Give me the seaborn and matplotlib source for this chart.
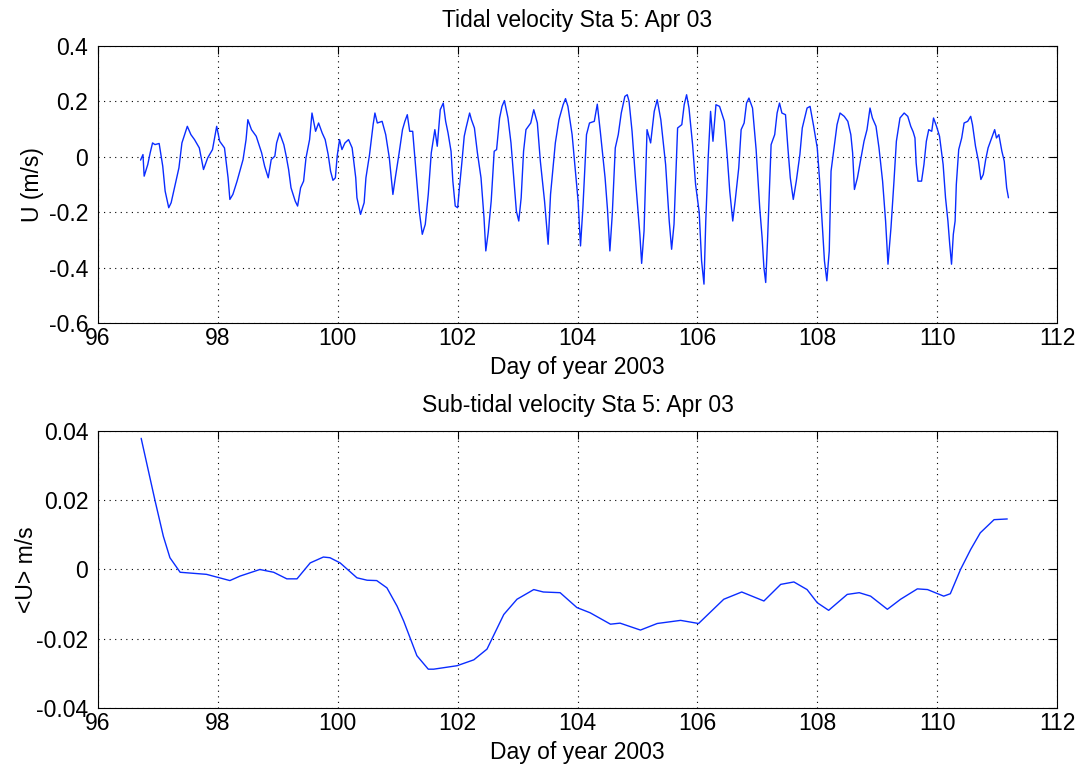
import matplotlib
matplotlib.use("Agg")
import matplotlib.pyplot as plt
import seaborn as sns
import pandas as pd

# ---- Tidal velocity (top panel) ----
tidal_day = [
    96.71, 96.75, 96.77, 96.83, 96.87, 96.91, 96.95, 97.02, 97.08, 97.12, 97.18, 97.22, 97.27, 97.35,
    97.40, 97.49, 97.55, 97.61, 97.69, 97.76, 97.83, 97.91, 97.98, 98.03, 98.11, 98.17, 98.20, 98.25,
    98.32, 98.42, 98.47, 98.50, 98.56, 98.64, 98.73, 98.78, 98.84, 98.89, 98.95, 98.98, 99.03, 99.10,
    99.14, 99.18, 99.22, 99.29, 99.33, 99.38, 99.43, 99.47, 99.53, 99.57, 99.63, 99.68, 99.74, 99.79,
    99.84, 99.88, 99.92, 99.96, 99.99, 100.03, 100.07, 100.12, 100.18, 100.24, 100.30, 100.32, 100.38,
    100.44, 100.47, 100.53, 100.59, 100.62, 100.66, 100.74, 100.80, 100.86, 100.92, 100.96, 101.02,
    101.08, 101.12, 101.16, 101.20, 101.25, 101.31, 101.36, 101.41, 101.46, 101.51, 101.56, 101.62,
    101.66, 101.71, 101.76, 101.80, 101.84, 101.89, 101.92, 101.96, 102.00, 102.03, 102.07, 102.11,
    102.14, 102.20, 102.23, 102.28, 102.33, 102.39, 102.44, 102.47, 102.51, 102.56, 102.61, 102.65,
    102.70, 102.74, 102.78, 102.84, 102.89, 102.94, 102.98, 103.02, 103.06, 103.10, 103.14, 103.22,
    103.27, 103.33, 103.38, 103.45, 103.51, 103.55, 103.63, 103.69, 103.76, 103.80, 103.84, 103.91,
    103.96, 104.01, 104.05, 104.09, 104.15, 104.20, 104.28, 104.33, 104.38, 104.46, 104.50, 104.54,
    104.58, 104.63, 104.68, 104.73, 104.79, 104.83, 104.86, 104.91, 104.97, 105.01, 105.04, 105.07,
    105.11, 105.16, 105.22, 105.28, 105.33, 105.39, 105.47, 105.53, 105.57, 105.61, 105.67, 105.74,
    105.78, 105.82, 105.86, 105.92, 105.97, 106.03, 106.07, 106.11, 106.14, 106.18, 106.22, 106.26,
    106.31, 106.37, 106.45, 106.50, 106.54, 106.59, 106.63, 106.69, 106.73, 106.78, 106.82, 106.86,
    106.92, 106.98, 107.04, 107.08, 107.11, 107.14, 107.17, 107.23, 107.29, 107.33, 107.37, 107.41,
    107.47, 107.51, 107.55, 107.60, 107.65, 107.71, 107.75, 107.79, 107.83, 107.88, 107.94, 108.00,
    108.04, 108.08, 108.12, 108.16, 108.20, 108.23, 108.28, 108.33, 108.38, 108.45, 108.51, 108.56,
    108.59, 108.62, 108.67, 108.73, 108.78, 108.83, 108.88, 108.92, 108.98, 109.03, 109.09, 109.14,
    109.18, 109.23, 109.28, 109.32, 109.38, 109.45, 109.51, 109.56, 109.60, 109.63, 109.65, 109.68,
    109.74, 109.78, 109.82, 109.86, 109.91, 109.94, 109.99, 110.04, 110.10, 110.14, 110.18, 110.21,
    110.24, 110.27, 110.30, 110.32, 110.36, 110.41, 110.45, 110.51, 110.56, 110.59, 110.64, 110.69,
    110.73, 110.77, 110.81, 110.85, 110.90, 110.94, 110.96, 110.99, 111.03, 111.08, 111.12, 111.16,
    111.19,
]
tidal_u = [
    -0.012, 0.008, -0.070, -0.028, 0.014, 0.050, 0.044, 0.048, -0.034, -0.124, -0.184, -0.166, -0.118, -0.040,
    0.050, 0.110, 0.080, 0.062, 0.032, -0.046, -0.004, 0.026, 0.110, 0.056, 0.032, -0.076, -0.154, -0.136,
    -0.088, -0.010, 0.062, 0.134, 0.098, 0.074, 0.014, -0.034, -0.076, -0.010, 0.002, 0.050, 0.086, 0.044,
    0.002, -0.046, -0.112, -0.160, -0.178, -0.112, -0.088, -0.004, 0.062, 0.158, 0.092, 0.122, 0.086, 0.062,
    0.008, -0.052, -0.085, -0.076, 0.002, 0.062, 0.026, 0.050, 0.062, 0.032, -0.076, -0.148, -0.208,
    -0.166, -0.076, 0.008, 0.116, 0.158, 0.122, 0.128, 0.080, -0.004, -0.136, -0.076, 0.008,
    0.098, 0.128, 0.152, 0.092, 0.092, -0.064, -0.196, -0.280, -0.244, -0.136, 0.014, 0.098,
    0.038, 0.170, 0.194, 0.128, 0.086, 0.020, -0.088, -0.178, -0.184, -0.112, -0.022, 0.074,
    0.104, 0.158, 0.134, 0.104, 0.014, -0.076, -0.220, -0.340, -0.274, -0.160, 0.020, 0.026,
    0.140, 0.182, 0.203, 0.140, 0.050, -0.088, -0.196, -0.232, -0.148, 0.020, 0.098, 0.122,
    0.170, 0.122, -0.016, -0.160, -0.316, -0.136, 0.050, 0.134, 0.188, 0.210, 0.182, 0.080,
    -0.040, -0.160, -0.322, -0.184, 0.080, 0.122, 0.128, 0.190, 0.092, -0.076, -0.190, -0.340,
    -0.208, 0.032, 0.080, 0.158, 0.218, 0.224, 0.200, 0.092, -0.088, -0.196, -0.280, -0.385,
    -0.268, 0.098, 0.050, 0.164, 0.206, 0.134, -0.028, -0.232, -0.334, -0.244, 0.104, 0.116,
    0.188, 0.224, 0.176, 0.044, -0.100, -0.200, -0.376, -0.460, -0.232, -0.004, 0.164, 0.056,
    0.188, 0.182, 0.128, -0.004, -0.124, -0.232, -0.160, -0.040, 0.098, 0.122, 0.194, 0.212,
    0.176, 0.026, -0.184, -0.292, -0.400, -0.454, -0.304, 0.044, 0.080, 0.158, 0.194, 0.158,
    0.152, 0.032, -0.076, -0.154, -0.088, 0.008, 0.104, 0.140, 0.176, 0.182, 0.110, 0.032,
    -0.088, -0.232, -0.376, -0.448, -0.340, -0.052, 0.032, 0.116, 0.158, 0.146, 0.128, 0.080,
    0.014, -0.118, -0.076, -0.004, 0.056, 0.098, 0.176, 0.140, 0.110, 0.032, -0.088, -0.232,
    -0.388, -0.256, -0.088, 0.056, 0.140, 0.158, 0.146, 0.110, 0.090, 0.068, -0.022, -0.088,
    -0.088, -0.028, 0.056, 0.098, 0.092, 0.140, 0.110, 0.074, -0.028, -0.148, -0.232, -0.316,
    -0.388, -0.280, -0.232, -0.100, 0.026, 0.068, 0.122, 0.128, 0.146, 0.116, 0.038, -0.016,
    -0.082, -0.064, -0.010, 0.032, 0.062, 0.086, 0.098, 0.068, 0.080, 0.020, -0.016, -0.112,
    -0.148,
]

# ---- Sub-tidal velocity (bottom panel) ----
sub_day = [
    96.72, 96.95, 97.09, 97.20, 97.37, 97.81, 98.20, 98.37, 98.70, 98.93, 99.15, 99.32, 99.54, 99.76,
    99.87, 100.04, 100.32, 100.49, 100.65, 100.82, 100.99, 101.10, 101.32, 101.51, 101.60, 101.99,
    102.27, 102.49, 102.77, 102.99, 103.27, 103.43, 103.71, 103.99, 104.21, 104.55, 104.71, 105.05,
    105.33, 105.72, 106.02, 106.44, 106.74, 107.11, 107.39, 107.61, 107.83, 108.00, 108.19, 108.50,
    108.70, 108.89, 109.17, 109.39, 109.67, 109.84, 110.11, 110.22, 110.39, 110.56, 110.72, 110.95,
    111.17,
]
sub_u = [
    0.0379, 0.0200, 0.0096, 0.0034, -0.0008, -0.0014, -0.0032, -0.0019, 0.0000, -0.0008, -0.0027, -0.0027, 0.0019, 0.0036,
    0.0034, 0.0019, -0.0024, -0.0031, -0.0032, -0.0053, -0.0106, -0.0149, -0.0249, -0.0288, -0.0288, -0.0278,
    -0.0261, -0.0230, -0.0130, -0.0086, -0.0058, -0.0065, -0.0067, -0.0110, -0.0125, -0.0158, -0.0155, -0.0175,
    -0.0156, -0.0147, -0.0156, -0.0086, -0.0065, -0.0091, -0.0043, -0.0036, -0.0058, -0.0096, -0.0118, -0.0072,
    -0.0067, -0.0077, -0.0115, -0.0086, -0.0056, -0.0058, -0.0077, -0.0070, 0.0000, 0.0058, 0.0106, 0.0144,
    0.0146,
]

x_ticks = [96, 98, 100, 102, 104, 106, 108, 110, 112]
top_yticks = [-0.6, -0.4, -0.2, 0, 0.2, 0.4]
top_yticklabels = ["-0.6", "-0.4", "-0.2", "0", "0.2", "0.4"]
bot_yticks = [-0.04, -0.02, 0, 0.02, 0.04]
bot_yticklabels = ["-0.04", "-0.02", "0", "0.02", "0.04"]

sns.set_theme(style="white")
plt.rcParams["font.family"] = ["Liberation Sans", "DejaVu Sans"]
plt.rcParams["axes.unicode_minus"] = False
plt.rcParams["text.color"] = "black"
plt.rcParams["axes.labelcolor"] = "black"

FS = 16.5
fig = plt.figure(figsize=(10.83, 7.67), dpi=100)
ax1 = fig.add_axes([0.0905, 0.579, 0.8855, 0.361])
ax2 = fig.add_axes([0.0905, 0.077, 0.8855, 0.361])

df_t = pd.DataFrame({"day": tidal_day, "u": tidal_u})
df_s = pd.DataFrame({"day": sub_day, "u": sub_u})

sns.lineplot(data=df_t, x="day", y="u", ax=ax1, color="#0a2cff", lw=1.0,
             estimator=None, sort=False)
sns.lineplot(data=df_s, x="day", y="u", ax=ax2, color="#0a2cff", lw=1.0,
             estimator=None, sort=False)

def style(ax, yticks, ylabels, ylim, title, ylabel, ylab_x):
    ax.set_xlim(96, 112)
    ax.set_ylim(*ylim)
    ax.set_xticks(x_ticks)
    ax.set_xticklabels([str(t) for t in x_ticks])
    ax.set_yticks(yticks)
    ax.set_yticklabels(ylabels)
    ax.grid(True, linestyle=(0, (1, 4)), color="black", lw=0.8)
    ax.tick_params(direction="in", length=6, width=0.8, top=True, right=True,
                   labelsize=FS, colors="black")
    ax.tick_params(axis="y", pad=7)
    ax.tick_params(axis="x", pad=3)
    for s in ax.spines.values():
        s.set_color("black")
        s.set_linewidth(0.8)
    ax.set_title(title, fontsize=FS, pad=14, color="black")
    ax.set_xlabel("Day of year 2003", fontsize=FS, labelpad=4)
    ax.set_ylabel(ylabel, fontsize=FS)
    ax.yaxis.set_label_coords(ylab_x, 0.5)

style(ax1, top_yticks, top_yticklabels, (-0.6, 0.4), "Tidal velocity Sta 5: Apr 03", "U (m/s)", -0.056)
style(ax2, bot_yticks, bot_yticklabels, (-0.04, 0.04), "Sub-tidal velocity Sta 5: Apr 03", "<U> m/s", -0.063)

fig.savefig("out.png", dpi=100, facecolor="white")
